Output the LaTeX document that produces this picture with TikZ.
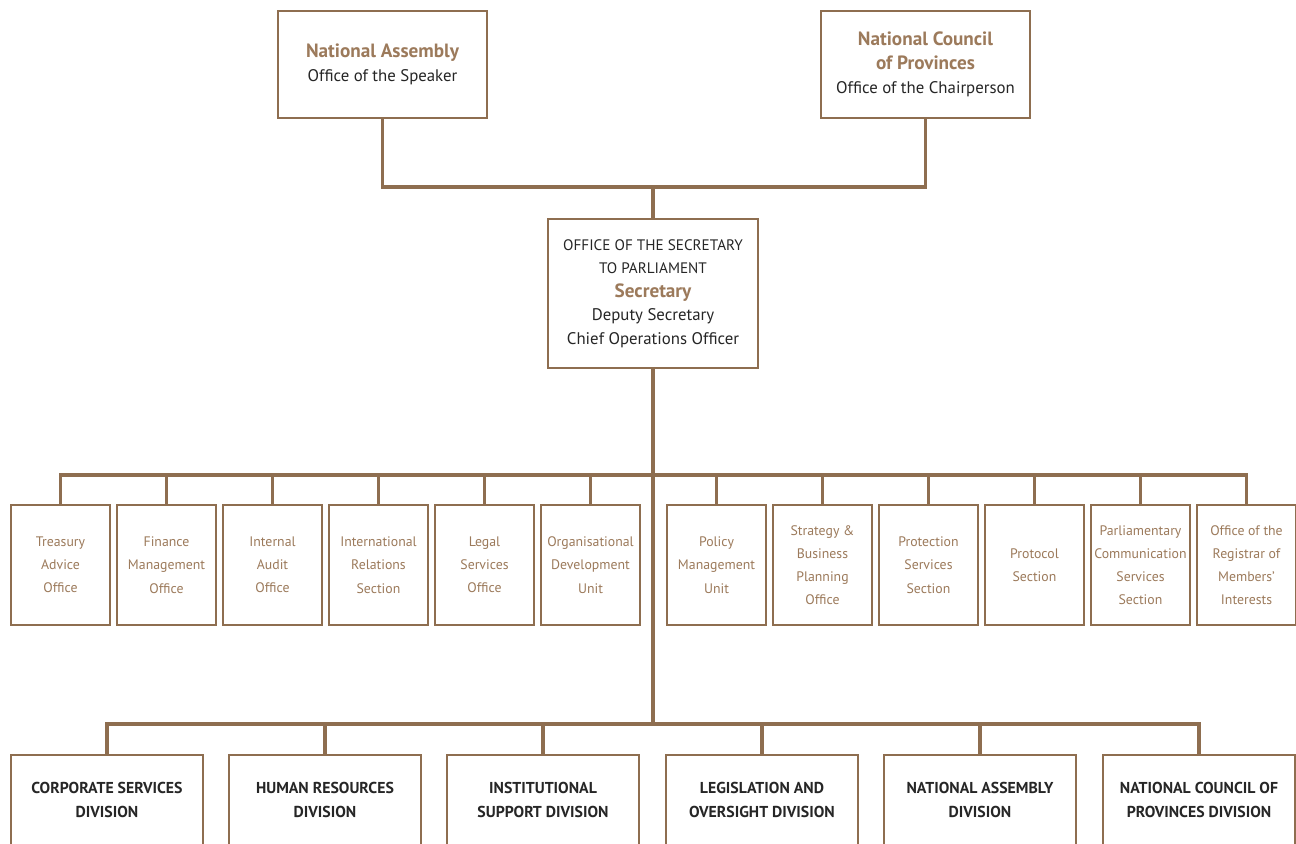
\documentclass[tikz,border=0pt]{standalone}
\usepackage{fontspec}
\setmainfont{PT Sans}
\definecolor{parlbrown}{HTML}{9C7A5B}
\definecolor{parlline}{HTML}{8E6E50}
\definecolor{parltext}{HTML}{262626}
\tikzset{
  headbox/.style={draw=parlline, line width=1pt, fill=white, minimum width=104.5pt, minimum height=53.5pt, align=center, text=parltext, font=\fontsize{8.4}{12}\selectfont},
  secbox/.style={draw=parlline, line width=1pt, fill=white, minimum width=105pt, minimum height=74.5pt, align=center, text=parltext, font=\fontsize{8.4}{11.75}\selectfont},
  unitbox/.style={draw=parlline, line width=1pt, fill=white, minimum width=49.5pt, minimum height=60pt, align=center, text=parlbrown, font=\fontsize{6.9}{11.6}\selectfont, inner sep=1pt},
  divbox/.style={draw=parlline, line width=1pt, fill=white, minimum width=96pt, minimum height=45pt, align=center, text=parltext, font=\fontsize{7.9}{11.6}\selectfont\bfseries},
  link/.style={draw=parlline, line width=1.6pt},
}
\newcommand{\headtitle}[1]{{\color{parlbrown}\fontsize{9.6}{11.8}\selectfont\bfseries #1}}
\newcommand{\capsline}[1]{{\fontsize{7.6}{11.75}\selectfont #1}}

\begin{document}
\begin{tikzpicture}[x=0.5pt,y=-0.5pt]
			%%%%% START %%%%%
			\useasboundingbox (0,0) rectangle (1296,843);
			
			\node[headbox] (na) at (382.5, 64.5) {\headtitle{National Assembly}\\Office of the Speaker};
			\node[headbox] (ncop) at (925.5, 64.5) {\headtitle{National Council}\\\headtitle{of Provinces}\\Office of the Chairperson};
			\node[secbox] (sec) at (653, 293.5) {\capsline{OFFICE OF THE SECRETARY}\\\capsline{TO PARLIAMENT}\\\headtitle{Secretary}\\Deputy Secretary\\Chief Operations Officer};
			
			\coordinate (topjoin) at (653, 187);
			\coordinate (unitbus) at (653, 475);
			\coordinate (divbus) at (653, 724);
			
			\draw[link] (na.south) |- (topjoin) -| (ncop.south);
			\draw[link] (topjoin) -- (sec.north);
			\draw[link] (sec.south) -- (divbus);
			
			% units
			\node[unitbox] (tao) at (60.5, 565) {Treasury\\Advice\\Office};
			\node[unitbox] (fmo) at (166.5, 565) {Finance\\Management\\Office};
			\node[unitbox] (iao) at (272.5, 565) {Internal\\Audit\\Office};
			\node[unitbox] (irs) at (378.5, 565) {International\\Relations\\Section};
			\node[unitbox] (lso) at (484.5, 565) {Legal\\Services\\Office};
			\node[unitbox] (odu) at (590.5, 565) {Organisational\\Development\\Unit};
			\node[unitbox] (pmu) at (716.5, 565) {Policy\\Management\\Unit};
			\node[unitbox] (sbpo) at (822.5, 565) {Strategy \&\\Business\\Planning\\Office};
			\node[unitbox] (pss) at (928.5, 565) {Protection\\Services\\Section};
			\node[unitbox] (ps) at (1034.5, 565) {Protocol\\Section};
			\node[unitbox] (pcss) at (1140.5, 565) {Parliamentary\\Communication\\Services\\Section};
			\node[unitbox] (rmi) at (1246.5, 565) {Office of the\\Registrar of\\Members’\\Interests};
			
			\draw[link] (unitbus) -| (tao.north);
			\draw[link] (unitbus) -| (fmo.north);
			\draw[link] (unitbus) -| (iao.north);
			\draw[link] (unitbus) -| (irs.north);
			\draw[link] (unitbus) -| (lso.north);
			\draw[link] (unitbus) -| (odu.north);
			\draw[link] (unitbus) -| (pmu.north);
			\draw[link] (unitbus) -| (sbpo.north);
			\draw[link] (unitbus) -| (pss.north);
			\draw[link] (unitbus) -| (ps.north);
			\draw[link] (unitbus) -| (pcss.north);
			\draw[link] (unitbus) -| (rmi.north);
			
			% divisions
			\node[divbox] (csd) at (107, 800) {CORPORATE SERVICES\\DIVISION};
			\node[divbox] (hrd) at (325, 800) {HUMAN RESOURCES\\DIVISION};
			\node[divbox] (isd) at (543, 800) {INSTITUTIONAL\\SUPPORT DIVISION};
			\node[divbox] (lod) at (762, 800) {LEGISLATION AND\\OVERSIGHT DIVISION};
			\node[divbox] (nad) at (980, 800) {NATIONAL ASSEMBLY\\DIVISION};
			\node[divbox] (ncopd) at (1199, 800) {NATIONAL COUNCIL OF\\PROVINCES DIVISION};
			
			\draw[link] (divbus) -| (csd.north);
			\draw[link] (divbus) -| (hrd.north);
			\draw[link] (divbus) -| (isd.north);
			\draw[link] (divbus) -| (lod.north);
			\draw[link] (divbus) -| (nad.north);
			\draw[link] (divbus) -| (ncopd.north);
			
			%%%%% END %%%%%
\end{tikzpicture}
\end{document}
